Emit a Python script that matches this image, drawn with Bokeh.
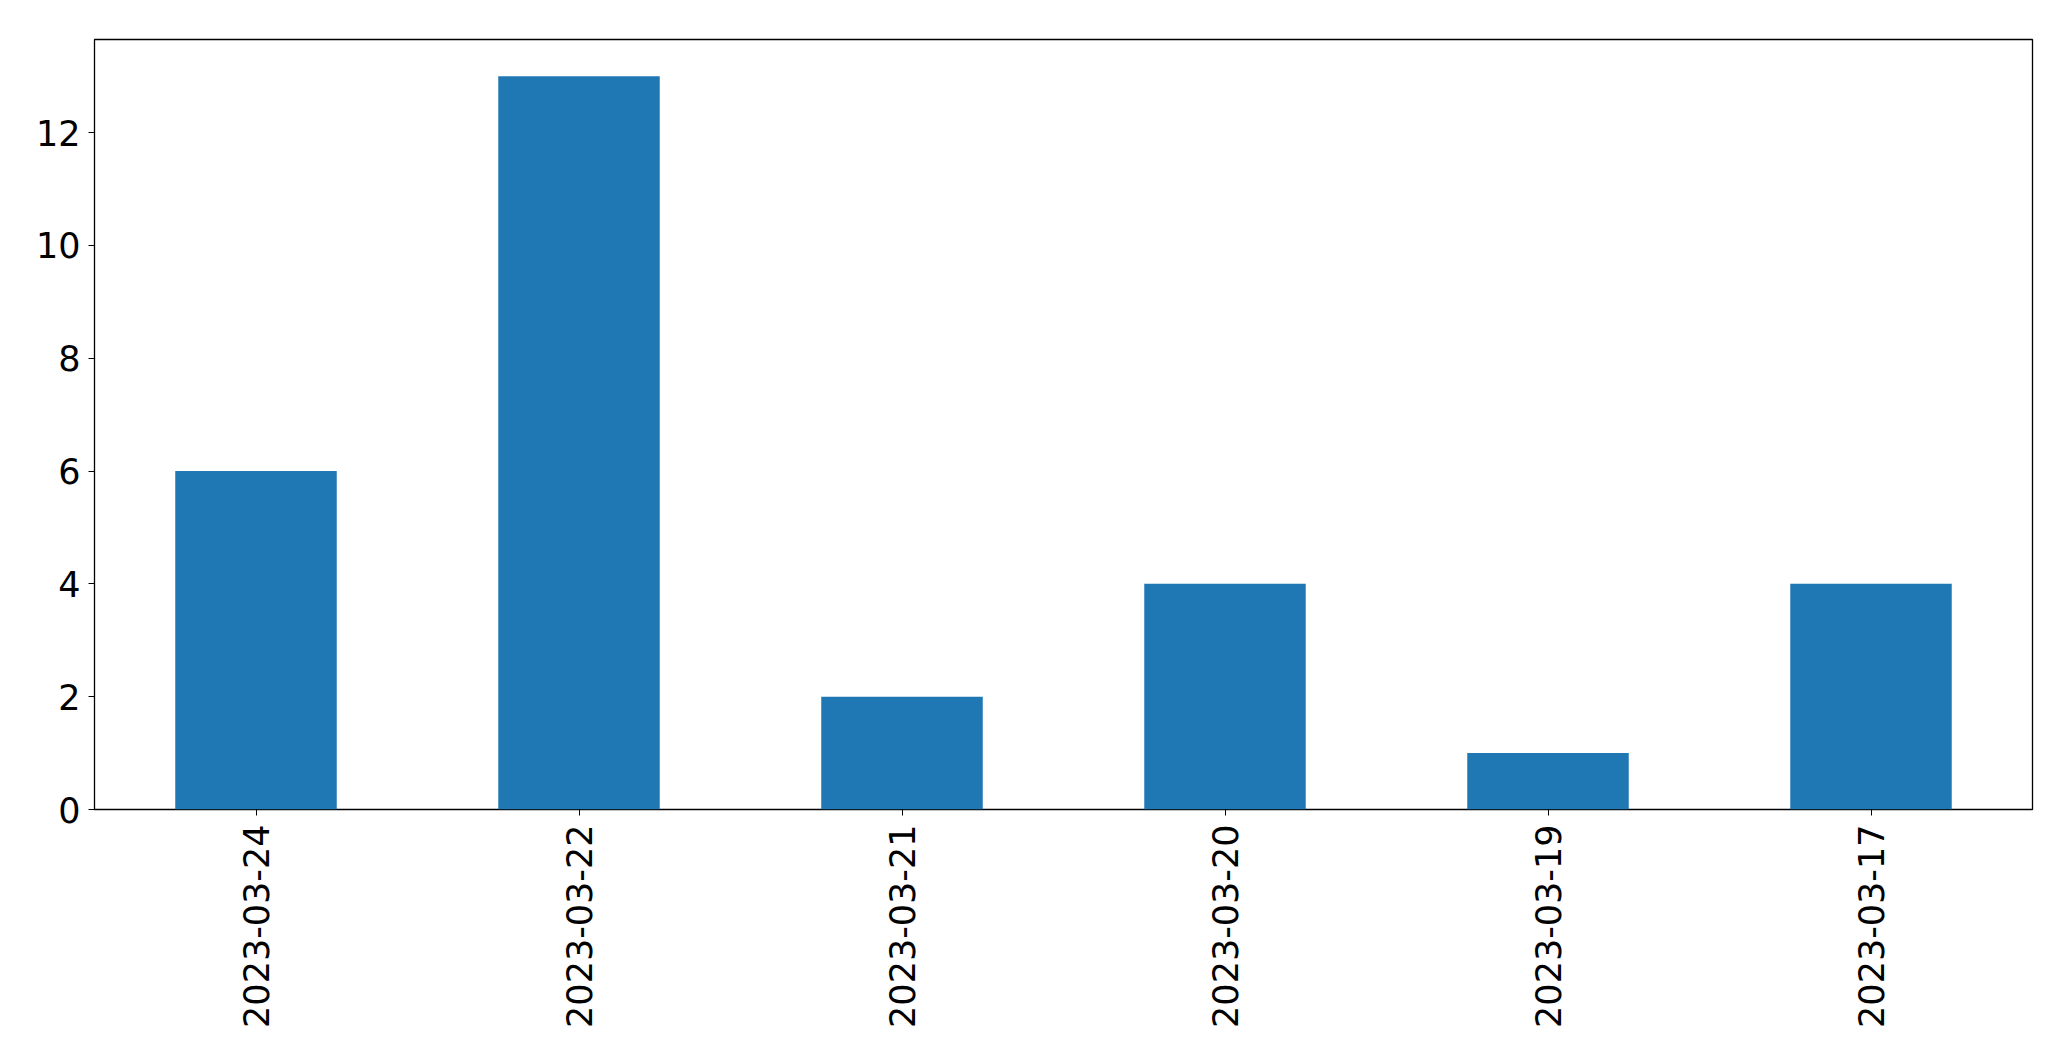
import math
from bokeh.plotting import figure
from bokeh.models import FixedTicker, Range1d
from bokeh.embed import file_html
from bokeh.resources import INLINE

dates = ["2023-03-24", "2023-03-22", "2023-03-21", "2023-03-20", "2023-03-19", "2023-03-17"]
counts = [6, 13, 2, 4, 1, 4]
y_ticks = [0, 2, 4, 6, 8, 10, 12]

xs = list(range(len(dates)))

p = figure(width=2063, height=1053, output_backend="svg", toolbar_location=None,
           x_range=Range1d(-0.5, len(dates) - 0.5), y_range=Range1d(0, max(counts) * 1.05),
           min_border_left=94, min_border_right=31, min_border_top=39, min_border_bottom=244)

p.vbar(x=xs, top=counts, width=0.5, bottom=0, fill_color="#1f77b4", line_color=None)

p.xgrid.visible = False
p.ygrid.visible = False
p.outline_line_color = "black"
p.outline_line_width = 1.3
p.background_fill_color = "white"
p.border_fill_color = "white"

for ax in (p.xaxis[0], p.yaxis[0]):
    ax.axis_line_color = None
    ax.major_tick_in = 0
    ax.major_tick_out = 6
    ax.major_tick_line_color = "black"
    ax.minor_tick_line_color = None
    ax.major_label_text_font = "DejaVu Sans"
    ax.major_label_text_font_size = "35px"
    ax.major_label_text_color = "black"

p.xaxis.ticker = FixedTicker(ticks=xs)
p.xaxis.major_label_overrides = {i: d for i, d in enumerate(dates)}
p.xaxis.major_label_orientation = math.pi / 2
p.xaxis.major_label_standoff = 9
p.yaxis.ticker = FixedTicker(ticks=y_ticks)
p.yaxis.major_label_standoff = 8

open("out.html", "w").write(file_html(p, INLINE))
